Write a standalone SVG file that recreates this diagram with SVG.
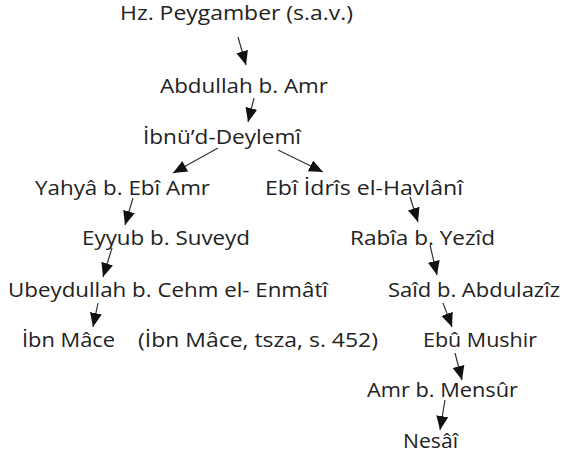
<svg xmlns="http://www.w3.org/2000/svg" width="565" height="459" viewBox="0 0 565 459">
<style>
text{font-family:"Open Sans","Noto Sans",sans-serif;font-size:20px;fill:#222}
.c line{stroke:#333;stroke-width:1.2;fill:none}
.a{marker-end:url(#ah)}
</style>
<defs>
<marker id="ah" markerUnits="userSpaceOnUse" markerWidth="15" markerHeight="15" viewBox="0 0 15 15" refX="14" refY="7.5" orient="auto">
<path d="M0,1.5 L14,7.5 L0,13.5 Z" fill="#111"/>
</marker>
</defs>
<rect width="565" height="459" fill="#fff"/>
<g id="n1"><text x="120" y="20" textLength="233" lengthAdjust="spacingAndGlyphs">Hz. Peygamber (s.a.v.)</text></g>
<g id="n2"><text x="160" y="93" textLength="168" lengthAdjust="spacingAndGlyphs">Abdullah b. Amr</text></g>
<g id="n3"><text x="143" y="144" textLength="158" lengthAdjust="spacingAndGlyphs">İbnü’d-Deylemî</text></g>
<g id="n4"><text x="35" y="195" textLength="175" lengthAdjust="spacingAndGlyphs">Yahyâ b. Ebî Amr</text></g>
<g id="n5"><text x="265" y="195" textLength="198" lengthAdjust="spacingAndGlyphs">Ebî İdrîs el-Havlânî</text></g>
<g id="n6"><text x="82" y="245" textLength="168" lengthAdjust="spacingAndGlyphs">Eyyub b. Suveyd</text></g>
<g id="n7"><text x="350" y="245" textLength="145" lengthAdjust="spacingAndGlyphs">Rabîa b. Yezîd</text></g>
<g id="n8"><text x="8" y="297" textLength="320" lengthAdjust="spacingAndGlyphs">Ubeydullah b. Cehm el- Enmâtî</text></g>
<g id="n9"><text x="388" y="297" textLength="172" lengthAdjust="spacingAndGlyphs">Saîd b. Abdulazîz</text></g>
<g id="n10"><text x="22" y="347" textLength="93" lengthAdjust="spacingAndGlyphs">İbn Mâce</text></g>
<g id="n11"><text x="138" y="347" textLength="240" lengthAdjust="spacingAndGlyphs">(İbn Mâce, tsza, s. 452)</text></g>
<g id="n12"><text x="423" y="347" textLength="114" lengthAdjust="spacingAndGlyphs">Ebû Mushir</text></g>
<g id="n13"><text x="367" y="397" textLength="151" lengthAdjust="spacingAndGlyphs">Amr b. Mensûr</text></g>
<g id="n14"><text x="403" y="448" textLength="55" lengthAdjust="spacingAndGlyphs">Nesâî</text></g>
<g id="connectors" class="c">
<line class="a" x1="238" y1="37" x2="246" y2="65"/>
<line class="a" x1="254" y1="98" x2="248" y2="122"/>
<line class="a" x1="218" y1="148" x2="173" y2="173"/>
<line class="a" x1="278" y1="150" x2="323" y2="172"/>
<line class="a" x1="133" y1="198" x2="125" y2="225"/>
<line class="a" x1="112" y1="248" x2="103" y2="277"/>
<line class="a" x1="98" y1="303" x2="93" y2="327"/>
<line class="a" x1="410" y1="197" x2="418" y2="222"/>
<line class="a" x1="430" y1="245" x2="437" y2="275"/>
<line class="a" x1="443" y1="303" x2="452" y2="327"/>
<line class="a" x1="455" y1="353" x2="462" y2="380"/>
<line class="a" x1="445" y1="400" x2="440" y2="430"/>
</g>
</svg>
